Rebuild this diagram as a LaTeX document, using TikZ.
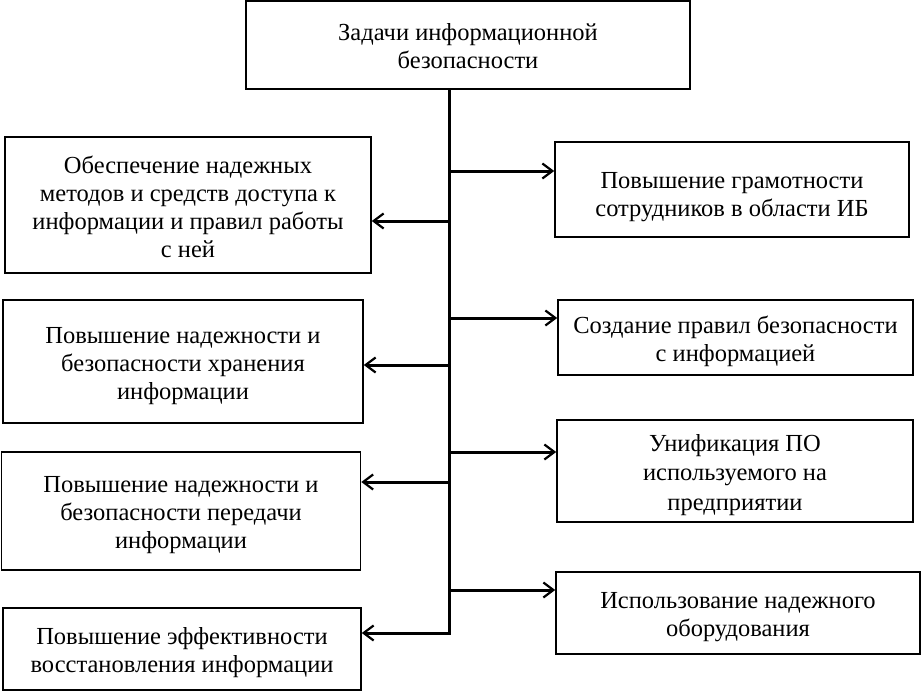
\documentclass[tikz,border=0pt]{standalone}
\usepackage{fontspec}
\setmainfont{Liberation Serif}
\usetikzlibrary{arrows.meta}
\begin{document}
\begin{tikzpicture}[x=1pt,y=-1pt,
  box/.style={draw,line width=1.6pt,inner sep=0pt},
  txt/.style={align=center,inner sep=0pt,font=\fontsize{24.5}{28}\selectfont},
  arr/.style={line width=3pt,line cap=butt,
    -{Straight Barb[length=10pt,width=15pt,line width=2.2pt]}},
  trunk/.style={line width=3pt}]
\useasboundingbox (0,0) rectangle (921,691);
% top
\node[box,minimum width=444pt,minimum height=88pt] (top) at (468,45) {};
\node[txt] (topt) at ([yshift=-1pt]top.center) {Задачи информационной\\безопасности};
% left boxes
\node[box,minimum width=366pt,minimum height=136pt] (L1) at (188,205) {};
\node[txt] (L1t) at ([yshift=-2pt]L1.center)
  {Обеспечение надежных\\методов и средств доступа к\\информации и правил работы\\с ней};
\node[box,minimum width=360pt,minimum height=123pt] (L2) at (183,361.5) {};
\node[txt] (L2t) at ([yshift=-5pt]L2.center)
  {Повышение надежности и\\безопасности хранения\\информации};
\node[box,minimum width=359pt,minimum height=118pt] (L3) at (181,511) {};
\node[txt] (L3t) at ([yshift=-4pt]L3.center)
  {Повышение надежности и\\безопасности передачи\\информации};
\node[box,minimum width=358pt,minimum height=82pt] (L4) at (182,649) {};
\node[txt] (L4t) at ([yshift=-3.5pt]L4.center)
  {Повышение эффективности\\восстановления информации};
% right boxes
\node[box,minimum width=354pt,minimum height=95pt] (R1) at (732,189.5) {};
\node[txt] (R1t) at ([yshift=-8pt]R1.center)
  {Повышение грамотности\\сотрудников в области ИБ};
\node[box,minimum width=355pt,minimum height=75pt] (R2) at (735.5,337.5) {};
\node[txt] (R2t) at ([yshift=-4pt]R2.center)
  {Создание правил безопасности\\с информацией};
\node[box,minimum width=356pt,minimum height=102pt] (R3) at (735,471) {};
\node[txt,font=\fontsize{24.5}{29.5}\selectfont] (R3t) at ([yshift=-4pt]R3.center)
  {Унификация ПО\\используемого на\\предприятии};
\node[box,minimum width=364pt,minimum height=82pt] (R4) at (738,613) {};
\node[txt] (R4t) at ([yshift=-4pt]R4.center)
  {Использование надежного\\оборудования};
% trunk coordinates
\coordinate (l1) at (449,221);
\coordinate (l2) at (449,365);
\coordinate (l3) at (449,482);
\coordinate (l4) at (449,633);
\coordinate (r1) at (449,171);
\coordinate (r2) at (449,318);
\coordinate (r3) at (449,452);
\coordinate (r4) at (449,590);
\draw[trunk] (top.south -| l1) -- ([yshift=-1.5pt]l4);
\draw[arr] (l1) -- (l1 -| L1.east);
\draw[arr] (l2) -- (l2 -| L2.east);
\draw[arr] (l3) -- (l3 -| L3.east);
\draw[arr] (l4) -- (l4 -| L4.east);
\draw[arr] (r1) -- (r1 -| R1.west);
\draw[arr] (r2) -- (r2 -| R2.west);
\draw[arr] (r3) -- (r3 -| R3.west);
\draw[arr] (r4) -- (r4 -| R4.west);
\end{tikzpicture}
\end{document}
